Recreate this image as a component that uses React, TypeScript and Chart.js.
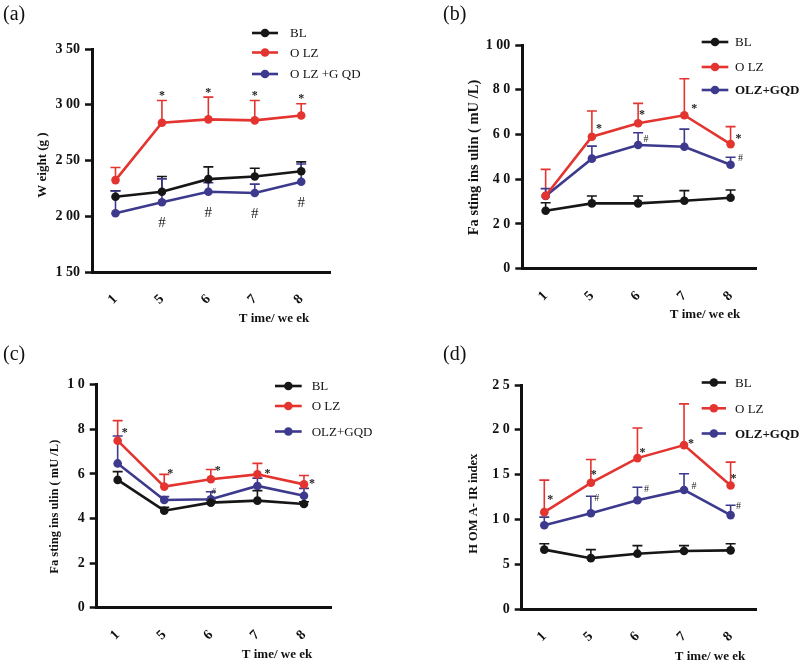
import React, { useEffect, useRef } from 'react';
import { Chart, registerables } from 'chart.js';
Chart.register(...registerables);

// ---------- data ----------
const weeks = ['1', '5', '6', '7', '8'];

const weightBL = [217.5, 222, 233.3, 235.7, 240.4];
const weightBLErr = [5.4, 13.7, 11, 7.4, 8.4];
const weightOLZ = [232.4, 283.9, 286.9, 286, 290.4];
const weightOLZErr = [11.3, 19.9, 19.9, 17.8, 10.5];
const weightGQD = [202.7, 212.5, 222, 220.8, 230.9];
const weightGQDErr = [20, 21, 8, 8, 16];
const weightTicks = ['1 50', '2 00', '2 50', '3 00', '3 50'];

const insulinBBL = [25.9, 29.2, 29.2, 30.4, 31.7];
const insulinBBLErr = [3.6, 3.3, 3.3, 4.5, 3.5];
const insulinBOLZ = [32.6, 59, 65, 68.6, 55.7];
const insulinBOLZErr = [11.8, 11.5, 8.9, 16.3, 7.8];
const insulinBGQD = [32.5, 49.2, 55.3, 54.5, 46.5];
const insulinBGQDErr = [3.3, 5.6, 5.5, 7.9, 3.3];
const insulinBTicks = ['0', '2 0', '4 0', '6 0', '8 0', '1 00'];

const insulinCBL = [5.73, 4.35, 4.71, 4.8, 4.65];
const insulinCBLErr = [0.37, 0.15, 0.1, 0.45, 0.1];
const insulinCOLZ = [7.49, 5.43, 5.76, 5.98, 5.53];
const insulinCOLZErr = [0.9, 0.55, 0.44, 0.49, 0.4];
const insulinCGQD = [6.47, 4.83, 4.86, 5.46, 5.02];
const insulinCGQDErr = [1.23, 0.15, 0.34, 0.35, 0.33];
const insulinCTicks = ['0', '2', '4', '6', '8', '1 0'];

const homaBL = [6.65, 5.7, 6.2, 6.5, 6.57];
const homaBLErr = [0.65, 0.95, 0.9, 0.6, 0.73];
const homaOLZ = [10.83, 14.1, 16.85, 18.3, 13.8];
const homaOLZErr = [3.57, 2.6, 3.35, 4.6, 2.6];
const homaGQD = [9.37, 10.7, 12.15, 13.3, 10.5];
const homaGQDErr = [0.9, 1.9, 1.45, 1.8, 1.1];
const homaTicks = ['0', '5', '1 0', '1 5', '2 0', '2 5'];

// ---------- styles ----------
const C_BL = '#161616';
const C_OLZ = '#e3342f';
const C_GQD = '#3d3a8e';
const SERIF = '"Liberation Serif", "DejaVu Serif", serif';

type Mark = { sym: string; s: number; i: number; ref: 'point' | 'cap'; dx: number; dy: number; size: number };
type Cfg = {
  left: number; top: number; w: number; h: number;
  area: { l: number; r: number; t: number; b: number };
  xMin: number; xMax: number;
  yMin: number; yMax: number; yStep: number; yLabels: string[];
  values: number[][]; errors: number[][];
  legend: string[]; legendBold: boolean[]; legendRows: number[]; legendX: [number, number, number];
  letter: string; letterPos: [number, number];
  yTitle: string; yTitlePos: [number, number]; yTitleSize: number;
  xTitle: string; xTitlePos: [number, number];
  marks: Mark[];
};

const colors = [C_BL, C_OLZ, C_GQD];

const panels: Cfg[] = [
  {
    left: 0, top: 0, w: 400, h: 333,
    area: { l: 92, r: 330, t: 49, b: 272 },
    xMin: -0.506, xMax: 4.62,
    yMin: 150, yMax: 350, yStep: 50, yLabels: weightTicks,
    values: [weightBL, weightOLZ, weightGQD], errors: [weightBLErr, weightOLZErr, weightGQDErr],
    legend: ['BL', 'O LZ', 'O LZ +G QD'], legendBold: [false, false, false], legendRows: [33, 52.5, 74], legendX: [252, 278, 290],
    letter: '(a)', letterPos: [3, 15],
    yTitle: 'W eight (g )', yTitlePos: [43, 165], yTitleSize: 13,
    xTitle: 'T ime/ we ek', xTitlePos: [274, 319],
    marks: [
      { sym: '*', s: 1, i: 1, ref: 'cap', dx: 0, dy: -7, size: 12 },
      { sym: '*', s: 1, i: 2, ref: 'cap', dx: 0, dy: -7, size: 12 },
      { sym: '*', s: 1, i: 3, ref: 'cap', dx: 0, dy: -7, size: 12 },
      { sym: '*', s: 1, i: 4, ref: 'cap', dx: 0, dy: -7, size: 12 },
      { sym: '#', s: 2, i: 1, ref: 'point', dx: 0, dy: 21, size: 15 },
      { sym: '#', s: 2, i: 2, ref: 'point', dx: 0, dy: 21, size: 15 },
      { sym: '#', s: 2, i: 3, ref: 'point', dx: 0, dy: 21, size: 15 },
      { sym: '#', s: 2, i: 4, ref: 'point', dx: 0, dy: 21, size: 15 },
    ],
  },
  {
    left: 400, top: 0, w: 400, h: 333,
    area: { l: 122.3, r: 356, t: 45, b: 268.7 },
    xMin: -0.505, xMax: 4.55,
    yMin: 0, yMax: 100, yStep: 20, yLabels: insulinBTicks,
    values: [insulinBBL, insulinBOLZ, insulinBGQD], errors: [insulinBBLErr, insulinBOLZErr, insulinBGQDErr],
    legend: ['BL', 'O LZ', 'OLZ+GQD'], legendBold: [false, false, true], legendRows: [42, 67, 90], legendX: [301.7, 328.3, 335],
    letter: '(b)', letterPos: [43, 15],
    yTitle: 'Fa sting ins ulin ( mU /L)', yTitlePos: [74, 157.5], yTitleSize: 14.5,
    xTitle: 'T ime/ we ek', xTitlePos: [305, 315],
    marks: [
      { sym: '*', s: 1, i: 1, ref: 'point', dx: 7, dy: -10, size: 12 },
      { sym: '*', s: 1, i: 2, ref: 'point', dx: 4, dy: -10.5, size: 12 },
      { sym: '*', s: 1, i: 3, ref: 'point', dx: 10, dy: -9, size: 12 },
      { sym: '*', s: 1, i: 4, ref: 'point', dx: 8, dy: -8, size: 12 },
      { sym: '#', s: 2, i: 2, ref: 'point', dx: 8, dy: -6, size: 10 },
      { sym: '#', s: 2, i: 4, ref: 'point', dx: 10, dy: -6, size: 10 },
    ],
  },
  {
    left: 0, top: 333, w: 400, h: 334,
    area: { l: 96.7, r: 331, t: 51.7, b: 274.7 },
    xMin: -0.45, xMax: 4.58,
    yMin: 0, yMax: 10, yStep: 2, yLabels: insulinCTicks,
    values: [insulinCBL, insulinCOLZ, insulinCGQD], errors: [insulinCBLErr, insulinCOLZErr, insulinCGQDErr],
    legend: ['BL', 'O LZ', 'OLZ+GQD'], legendBold: [false, false, false], legendRows: [53, 73, 98.5], legendX: [275, 301.7, 311.7],
    letter: '(c)', letterPos: [3, 22],
    yTitle: 'Fa sting ins ulin ( mU /L)', yTitlePos: [55, 173.7], yTitleSize: 12.5,
    xTitle: 'T ime/ we ek', xTitlePos: [277, 322],
    marks: [
      { sym: '*', s: 1, i: 0, ref: 'point', dx: 7, dy: -10, size: 12 },
      { sym: '*', s: 1, i: 1, ref: 'point', dx: 6, dy: -15, size: 12 },
      { sym: '*', s: 1, i: 2, ref: 'point', dx: 7, dy: -11, size: 12 },
      { sym: '*', s: 1, i: 3, ref: 'point', dx: 10, dy: -3, size: 12 },
      { sym: '*', s: 1, i: 4, ref: 'point', dx: 8, dy: -3, size: 12 },
      { sym: '#', s: 2, i: 2, ref: 'point', dx: 3, dy: -8, size: 9 },
    ],
  },
  {
    left: 400, top: 333, w: 400, h: 334,
    area: { l: 121.7, r: 356.7, t: 52, b: 276.3 },
    xMin: -0.485, xMax: 4.56,
    yMin: 0, yMax: 25, yStep: 5, yLabels: homaTicks,
    values: [homaBL, homaOLZ, homaGQD], errors: [homaBLErr, homaOLZErr, homaGQDErr],
    legend: ['BL', 'O LZ', 'OLZ+GQD'], legendBold: [false, false, true], legendRows: [49.5, 75.3, 100.5], legendX: [301.7, 326, 335],
    letter: '(d)', letterPos: [43, 22],
    yTitle: 'H OM A- IR index', yTitlePos: [74, 170.8], yTitleSize: 12.5,
    xTitle: 'T ime/ we ek', xTitlePos: [310, 323.7],
    marks: [
      { sym: '*', s: 1, i: 0, ref: 'point', dx: 6, dy: -15, size: 12 },
      { sym: '*', s: 1, i: 1, ref: 'point', dx: 3, dy: -10, size: 12 },
      { sym: '*', s: 1, i: 2, ref: 'point', dx: 5, dy: -8, size: 12 },
      { sym: '*', s: 1, i: 3, ref: 'point', dx: 7, dy: -4, size: 12 },
      { sym: '*', s: 1, i: 4, ref: 'point', dx: 3, dy: -9, size: 12 },
      { sym: '#', s: 2, i: 1, ref: 'point', dx: 6, dy: -15, size: 10 },
      { sym: '#', s: 2, i: 2, ref: 'point', dx: 9, dy: -11, size: 10 },
      { sym: '#', s: 2, i: 3, ref: 'point', dx: 10, dy: -4, size: 10 },
      { sym: '#', s: 2, i: 4, ref: 'point', dx: 8, dy: -9, size: 10 },
    ],
  },
];

function makePlugins(cfg: Cfg) {
  const errorBars = {
    id: 'errorBars',
    beforeDatasetsDraw(chart: any) {
      const ctx = chart.ctx;
      const ys = chart.scales.y;
      ctx.save();
      cfg.values.forEach((vals, s) => {
        const meta = chart.getDatasetMeta(s);
        ctx.strokeStyle = colors[s];
        ctx.lineWidth = 1.6;
        vals.forEach((v, i) => {
          const pt = meta.data[i];
          const yTop = ys.getPixelForValue(v + cfg.errors[s][i]);
          ctx.beginPath();
          ctx.moveTo(pt.x, pt.y);
          ctx.lineTo(pt.x, yTop);
          ctx.moveTo(pt.x - 5, yTop);
          ctx.lineTo(pt.x + 5, yTop);
          ctx.stroke();
        });
      });
      ctx.restore();
    },
  };
  const decor = {
    id: 'decor',
    afterDraw(chart: any) {
      const ctx = chart.ctx;
      const ys = chart.scales.y;
      ctx.save();
      // panel letter
      ctx.fillStyle = '#111';
      ctx.font = `20px ${SERIF}`;
      ctx.textAlign = 'left';
      ctx.textBaseline = 'middle';
      ctx.fillText(cfg.letter, cfg.letterPos[0], cfg.letterPos[1]);
      // legend
      cfg.legend.forEach((txt, k) => {
        const y = cfg.legendRows[k];
        const [x0, x1, tx] = cfg.legendX;
        ctx.strokeStyle = colors[k];
        ctx.lineWidth = 2.6;
        ctx.beginPath();
        ctx.moveTo(x0, y);
        ctx.lineTo(x1, y);
        ctx.stroke();
        ctx.fillStyle = colors[k];
        ctx.beginPath();
        ctx.arc((x0 + x1) / 2, y, 4.3, 0, Math.PI * 2);
        ctx.fill();
        ctx.fillStyle = '#111';
        ctx.font = `${cfg.legendBold[k] ? 'bold ' : ''}13px ${SERIF}`;
        ctx.textAlign = 'left';
        ctx.textBaseline = 'middle';
        ctx.fillText(txt, tx, y + 1);
      });
      // axis titles
      ctx.fillStyle = '#111';
      ctx.textAlign = 'center';
      ctx.textBaseline = 'middle';
      ctx.save();
      ctx.font = `bold ${cfg.yTitleSize}px ${SERIF}`;
      ctx.translate(cfg.yTitlePos[0], cfg.yTitlePos[1]);
      ctx.rotate(-Math.PI / 2);
      ctx.fillText(cfg.yTitle, 0, 0);
      ctx.restore();
      ctx.font = `bold 13px ${SERIF}`;
      ctx.fillText(cfg.xTitle, cfg.xTitlePos[0], cfg.xTitlePos[1]);
      // significance marks
      cfg.marks.forEach((m) => {
        const pt = chart.getDatasetMeta(m.s).data[m.i];
        const v = cfg.values[m.s][m.i] + (m.ref === 'cap' ? cfg.errors[m.s][m.i] : 0);
        const y = ys.getPixelForValue(v) + m.dy;
        ctx.font = `${m.sym === '*' ? 'bold ' : ''}${m.size}px ${SERIF}`;
        ctx.fillStyle = '#222';
        ctx.textAlign = 'center';
        ctx.textBaseline = 'middle';
        ctx.fillText(m.sym, pt.x + m.dx, y + (m.sym === '*' ? m.size * 0.2 : 0));
      });
      ctx.restore();
    },
  };
  return [errorBars, decor];
}

function Panel({ cfg }: { cfg: Cfg }) {
  const ref = useRef<HTMLCanvasElement | null>(null);
  useEffect(() => {
    const canvas = ref.current;
    if (!canvas) return;
    const names = ['BL', 'OLZ', 'OLZ+GQD'];
    const chart = new Chart(canvas, {
      type: 'line',
      data: {
        datasets: cfg.values.map((vals, s) => ({
          label: names[s],
          data: vals.map((v, i) => ({ x: i, y: v })),
          borderColor: colors[s],
          backgroundColor: colors[s],
          pointBackgroundColor: colors[s],
          pointBorderColor: colors[s],
          pointRadius: 4.3,
          pointBorderWidth: 0,
          borderWidth: 2.6,
          tension: 0,
          fill: false,
        })),
      },
      options: {
        responsive: false,
        animation: false,
        devicePixelRatio: 1,
        layout: {
          padding: { left: 0, top: cfg.area.t, right: cfg.w - cfg.area.r, bottom: 0 },
        },
        plugins: { legend: { display: false }, tooltip: { enabled: false }, title: { display: false } },
        scales: {
          x: {
            type: 'linear',
            min: cfg.xMin,
            max: cfg.xMax,
            afterBuildTicks: (scale: any) => {
              scale.ticks = weeks.map((_, i) => ({ value: i }));
            },
            afterFit: (scale: any) => {
              scale.height = cfg.h - cfg.area.b;
            },
            grid: { display: false },
            border: { display: true, color: '#111', width: 3 },
            ticks: {
              minRotation: 45,
              maxRotation: 45,
              padding: 11,
              color: '#111',
              font: { family: SERIF, size: 14, weight: 'bold' },
              callback: (v: any) => weeks[Math.round(Number(v))] ?? '',
            },
          },
          y: {
            type: 'linear',
            min: cfg.yMin,
            max: cfg.yMax,
            afterFit: (scale: any) => {
              scale.width = cfg.area.l;
            },
            grid: {
              display: true,
              drawOnChartArea: false,
              drawTicks: true,
              tickLength: 7,
              tickWidth: 2.5,
              tickColor: '#111',
            },
            border: { display: true, color: '#111', width: 3 },
            ticks: {
              stepSize: cfg.yStep,
              padding: 5,
              color: '#111',
              font: { family: SERIF, size: 14, weight: 'bold' },
              callback: (v: any) => cfg.yLabels[Math.round((Number(v) - cfg.yMin) / cfg.yStep)] ?? '',
            },
          },
        },
      },
      plugins: makePlugins(cfg),
    } as any);
    return () => chart.destroy();
  }, [cfg]);
  return (
    <canvas
      ref={ref}
      width={cfg.w}
      height={cfg.h}
      style={{ position: 'absolute', left: cfg.left, top: cfg.top, width: cfg.w, height: cfg.h }}
    />
  );
}

export default function App() {
  return (
    <div style={{ position: 'absolute', left: 0, top: 0, width: 800, height: 667, background: '#fff', overflow: 'hidden' }}>
      {panels.map((p, k) => (
        <Panel key={k} cfg={p} />
      ))}
    </div>
  );
}
